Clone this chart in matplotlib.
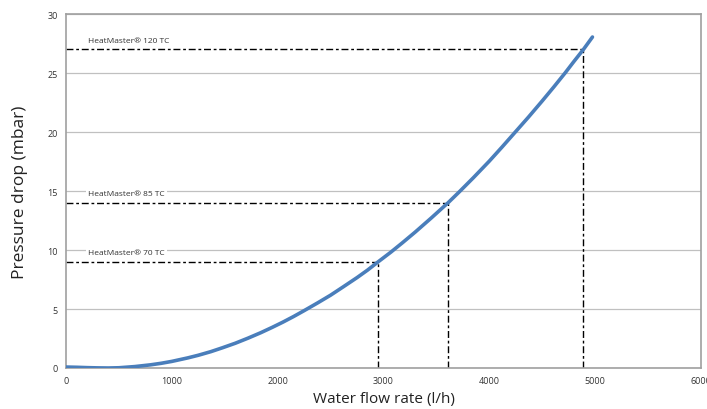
import matplotlib.pyplot as plt
import numpy as np

# --- Data ---
flow = [0, 100, 200, 300, 400, 500, 650, 800, 900, 1000, 1150, 1250, 1370, 1480,
        1600, 1720, 1840, 1950, 2050, 2150, 2250, 2380, 2500, 2620, 2750, 2850,
        2950, 3070, 3180, 3300, 3450, 3610, 3720, 3850, 4000, 4120, 4245, 4370,
        4500, 4610, 4717, 4800, 4890, 4975]
pressure = [0.08, 0.06, 0.03, 0.01, 0.0, 0.02, 0.12, 0.27, 0.4, 0.56, 0.855, 1.08, 1.39, 1.72,
            2.1, 2.53, 2.99, 3.45, 3.89, 4.36, 4.86, 5.53, 6.17, 6.88, 7.66, 8.3,
            9.0, 9.82, 10.62, 11.52, 12.7, 14.0, 14.96, 16.13, 17.53, 18.72, 19.99, 21.26,
            22.63, 23.82, 25.01, 25.98, 27.0, 28.05]

models = ["HeatMaster\u00ae 70 TC", "HeatMaster\u00ae 85 TC", "HeatMaster\u00ae 120 TC"]
model_flow = [2950, 3610, 4890]
model_drop = [9, 14, 27]

x_ticks = [0, 1000, 2000, 3000, 4000, 5000, 6000]
y_ticks = [0, 5, 10, 15, 20, 25, 30]

plt.rcParams['font.family'] = ['Open Sans', 'DejaVu Sans']

fig = plt.figure(figsize=(7.07, 4.10), dpi=100)
ax = fig.add_axes([0.0934, 0.10, 0.898, 0.8634])

ax.set_xlim(0, 6000)
ax.set_ylim(0, 30)
ax.set_xticks(x_ticks)
ax.set_yticks(y_ticks)
ax.tick_params(length=0, labelsize=6.5, colors='#333333', pad=6)
ax.yaxis.grid(True, color='#c0c0c0', lw=0.9)
ax.set_axisbelow(True)
for s in ax.spines.values():
    s.set_color('#a0a0a0')
    s.set_linewidth(1.2)

dash = (0, (5, 2, 2, 2))
for name, q, dp in zip(models, model_flow, model_drop):
    ax.plot([0, q], [dp, dp], color='black', lw=1.0, linestyle=dash, zorder=2)
    ax.plot([q, q], [0, dp], color='black', lw=1.0, linestyle=dash, zorder=2)
    ax.text(210, dp + 0.75, name, fontsize=6, color='#333333', va='center', ha='left',
            bbox=dict(facecolor='white', edgecolor='none', pad=1.5), zorder=3)

ax.plot(flow, pressure, color='#4a7ebb', lw=2.6, solid_capstyle='round',
        solid_joinstyle='round', zorder=4)

ax.set_xlabel('Water flow rate (l/h)', fontsize=11, color='#222222', labelpad=4)
ax.set_ylabel('Pressure drop (mbar)', fontsize=12.5, color='#222222', labelpad=14)

fig.savefig('out.png', dpi=100)
